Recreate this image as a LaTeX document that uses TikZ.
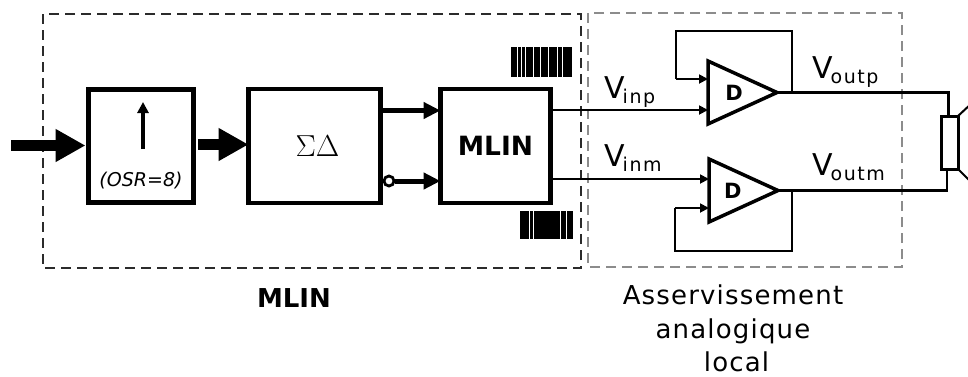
\documentclass[tikz,border=0pt]{standalone}
\usepackage{fontspec}
\setmainfont{DejaVu Sans}
\newfontfamily\spacedfont[LetterSpace=4.5]{DejaVu Sans}
\newfontfamily\subfont[LetterSpace=8]{DejaVu Sans}
\usetikzlibrary{positioning,calc,arrows.meta,shapes.geometric}
\definecolor{dashgray}{HTML}{8C8C8C}
\definecolor{dashink}{HTML}{2B2B2B}
\newcommand{\volt}[2]{\fontsize{30}{30}\selectfont V\kern-2pt\raisebox{-5pt}{\fontsize{19}{20}\subfont #2}}
\begin{document}
\begin{tikzpicture}[
  x=1pt, y=-1pt, >={Triangle},
  blockbox/.style={draw, line width=4.5pt, outer sep=0pt, inner sep=0pt, align=center},
  ampl/.style={draw, isosceles triangle, isosceles triangle stretches, line width=3.5pt, outer sep=0pt, inner sep=0pt, minimum width=63pt, minimum height=69pt, anchor=west, font=\fontsize{21}{21}\selectfont\bfseries},
  zone/.style={dash pattern=on 10pt off 6pt, draw},
  bigarrow/.style={-{Triangle[length=30pt,width=31pt]}, line width=10.5pt},
  midarrow/.style={-{Triangle[length=17pt,width=16pt]}, line width=5pt},
  sigline/.style={-{Triangle[length=9pt,width=9pt]}, line width=1.8pt},
  lab/.style={font=\fontsize{26}{33.5}\selectfont\spacedfont, align=center},
  volt/.style={inner sep=0pt, anchor=base west}]
\useasboundingbox (0,0) rectangle (968,376);
% filtre et modulateur
\node[blockbox, minimum width=105pt, minimum height=113pt] (osr) at (141,146) {};
\node[blockbox, minimum width=132pt, minimum height=114pt, right=55pt of osr] (sigma) {\hspace*{6pt}\scalebox{1.22}{\fontsize{24}{24}\selectfont$\Sigma\Delta$}};
\node[blockbox, minimum width=110pt, minimum height=114pt, right=60pt of sigma, font=\fontsize{26.5}{26.5}\selectfont\bfseries] (mlin) {MLIN};
\node[font=\fontsize{19}{19}\selectfont\itshape, inner sep=0pt] (ratio) at (141,181) {(OSR=8)};
\coordinate (upb) at (143,149);
\coordinate (upt) at (143,102);
\draw[-{Triangle[length=11pt,width=11pt]}, line width=4pt] (upb) -- (upt);
% amplis
\node[ampl] (ampp) at (708,92.5) {\hspace*{10pt}D};
\node[ampl] (ampm) at (709,190.5) {\hspace*{7pt}D};
\coordinate (inp) at (708,110);
\coordinate (inm) at (709,179);
\coordinate (fbp) at (708,79);
\coordinate (fbm) at (709,208);
\node[draw, line width=3pt, outer sep=0pt, inner sep=0pt, minimum width=17pt, minimum height=53pt] (spk) at (949.5,142.5) {};
\coordinate (conet) at (972,103);
\coordinate (coneb) at (972,183);
% zones
\draw[zone, draw=dashink, line width=2.4pt] (43,14) rectangle (581,268);
\draw[zone, draw=dashgray, line width=2pt] (588,13) rectangle (902,267);
% liens
\coordinate (start) at (11,145.5);
\draw[bigarrow, shorten >=3pt] (start) -- (osr.west |- start);
\coordinate (osrout) at (198,144.5);
\draw[bigarrow] (osrout) -- (sigma.west |- osrout);
\coordinate (sigp) at (383,110.5);
\draw[midarrow] (sigp) -- (mlin.west |- sigp);
\node[draw, circle, line width=2.8pt, fill=white, minimum size=10pt, inner sep=0pt] (inv) at (389,181) {};
\draw[midarrow] (inv) -- (mlin.west |- inv);
\draw[sigline] (mlin.east |- inp) -- (inp);
\draw[sigline] (mlin.east |- inm) -- (inm);
\draw[line width=1.8pt] (792,92.5) |- (676,31) -- (676,79);
\draw[sigline] (676,79) -- (fbp);
\draw[line width=1.8pt] (792,190.5) |- (675,251) -- (675,208);
\draw[sigline] (675,208) -- (fbm);
\draw[line width=3pt] (ampp.apex) -| (spk.north -| 948,0);
\draw[line width=2.2pt] (ampm.apex) -| (spk.south -| 947,0);
\draw[line width=2pt] (spk.north east) -- (conet);
\draw[line width=2pt] (spk.south east) -- (coneb);
% signaux
\foreach \a/\b in {511/516.5,517.5/520.5,521.5/524.5,525.5/532.5,533.5/540,541/548,549/556.5,557.5/561.5,562.5/571.5}
  \fill (\a,47) rectangle (\b,77);
\foreach \a/\b in {519.5/528.5,529.5/532.5,534/560,561/566,567/573}
  \fill (\a,211) rectangle (\b,239);
% textes
\node[volt] (vinp) at (604,98) {\volt{V}{inp}};
\node[volt] (vinm) at (604,166) {\volt{V}{inm}};
\node[volt] (voutp) at (812,78) {\volt{V}{outp}};
\node[volt] (voutm) at (812,175) {\volt{V}{outm}};
\node[font=\fontsize{26}{26}\selectfont\bfseries, inner sep=0pt] (mlab) at (294,298) {MLIN};
\node[lab, inner sep=0pt] (aslab) at (733,328.5) {Asservissement\\analogique\\\hspace*{7pt}local};
\end{tikzpicture}
\end{document}
